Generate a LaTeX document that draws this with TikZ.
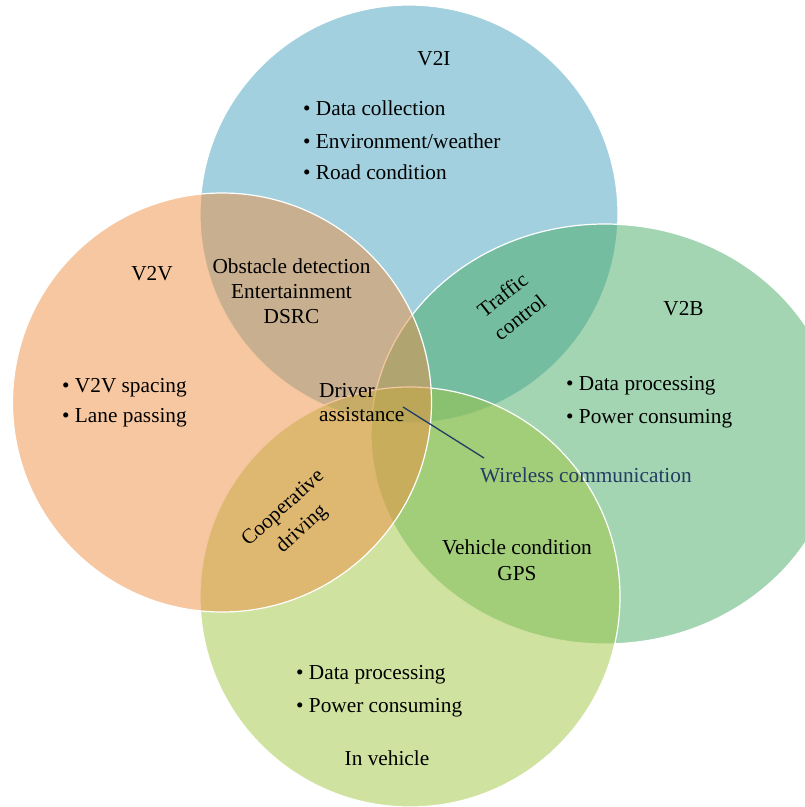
\documentclass[tikz,border=0pt]{standalone}
\usepackage{fontspec}
\setmainfont{Liberation Serif}
\definecolor{cVtwoI}{RGB}{69,161,189}
\definecolor{cVtwoB}{RGB}{73,172,101}
\definecolor{cInV}{RGB}{161,197,65}
\definecolor{cVtwoV}{RGB}{237,143,65}
\definecolor{navy}{RGB}{35,60,100}
\begin{document}
\begin{tikzpicture}[x=1pt,y=-1pt,
  venn/.style={draw=white, line width=1.2pt, fill opacity=0.5},
  lbl/.style={inner sep=0pt, text=black, font=\fontsize{21.3}{26}\selectfont},
  multi/.style={lbl, align=center, font=\fontsize{21}{28}\selectfont},
  bul/.style={lbl, anchor=base west}
]
\useasboundingbox (0,0) rectangle (805,807);
\clip (0,0) rectangle (805,807);

% circles (bottom to top)
\path[venn, fill=cVtwoI] (409,214) circle [radius=209];
\path[venn, fill=cVtwoB] (605,434) ellipse [x radius=234, y radius=210];
\path[venn, fill=cInV] (410,597) circle [radius=210];
\path[venn, fill=cVtwoV] (222,402.5) circle [radius=209.5];

% V2I
\node[lbl, anchor=base] (v2i) at (434,65) {V2I};
\node[bul] (v2ia) at (303,115) {\textbullet\ Data collection};
\node[bul] (v2ib) at (303,148) {\textbullet\ Environment/weather};
\node[bul] (v2ic) at (303,179) {\textbullet\ Road condition};

% V2V
\node[lbl, anchor=base] (v2v) at (152,280) {V2V};
\node[bul] (v2va) at (62,392) {\textbullet\ V2V spacing};
\node[bul] (v2vb) at (62,422) {\textbullet\ Lane passing};

% V2V & V2I
\node[lbl, anchor=base] (obs) at (291.5,273) {Obstacle detection};
\node[lbl, anchor=base] (ent) at (291.5,298) {Entertainment};
\node[lbl, anchor=base] (dsrc) at (291.5,323) {DSRC};

% V2I & V2B
\node[multi, rotate=38] (traffic) at (511,306) {Traffic\\control};

% V2B
\node[lbl, anchor=base] (v2b) at (683.5,315) {V2B};
\node[bul] (v2ba) at (566,390) {\textbullet\ Data processing};
\node[bul] (v2bb) at (566,423) {\textbullet\ Power consuming};

% centre
\node[lbl, anchor=base west] (driver) at (319,397) {Driver};
\node[lbl, anchor=base west] (assist) at (319,421) {assistance};

% V2V & In vehicle
\node[multi, rotate=42] (coop) at (293,519) {Cooperative\\driving};

% V2B & In vehicle
\node[lbl, anchor=base] (vc) at (517,554) {Vehicle condition};
\node[lbl, anchor=base] (gps) at (517,580) {GPS};

% In vehicle
\node[bul] (iva) at (296,679) {\textbullet\ Data processing};
\node[bul] (ivb) at (296,712) {\textbullet\ Power consuming};
\node[lbl, anchor=base] (inv) at (387,765) {In vehicle};

% wireless communication
\node[lbl, anchor=base west, text=navy] (wc) at (480,482) {Wireless communication};
\coordinate (wcstart) at (403,407);
\coordinate (wcend) at (484,458);
\draw[navy, line width=1.3pt] (wcstart) -- (wcend);
\end{tikzpicture}
\end{document}
